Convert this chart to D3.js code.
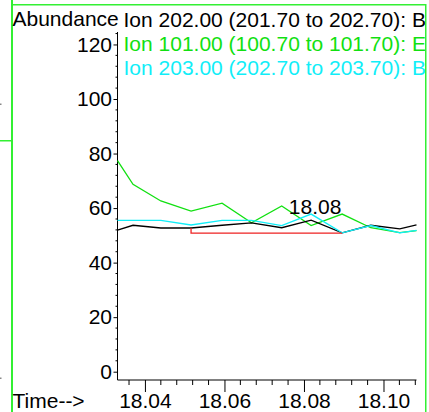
<!DOCTYPE html>
<html>
<head>
<meta charset="utf-8">
<script src="https://cdn.jsdelivr.net/npm/d3@7"></script>
<style>
  html, body { margin: 0; padding: 0; background: #fff; }
  svg { display: block; font-family: "Liberation Sans", Arial, sans-serif; }
</style>
</head>
<body>
<div id="chart"></div>
<script>
// ---- data ----
const times = [18.0331, 18.0370, 18.0440, 18.0516, 18.0594, 18.0668, 18.0744, 18.0818, 18.0896, 18.0968, 18.1041, 18.1083];
const ion202 = [51.9, 53.7, 52.7, 52.7, 53.7, 54.6, 52.8, 55.6, 50.9, 53.7, 52.4, 53.8];
const ion101 = [77.4, 68.7, 62.6, 58.9, 61.8, 54.6, 60.8, 53.6, 57.8, 52.8, 51.0, 51.7];
const ion203 = [55.5, 55.5, 55.5, 53.8, 55.5, 55.5, 53.6, 57.8, 50.9, 53.6, 50.9, 51.8];
const seriesNames = ["Ion 202.00 (201.70 to 202.70): B", "Ion 101.00 (100.70 to 101.70): E", "Ion 203.00 (202.70 to 203.70): B"];
const seriesColors = ["#000000", "#11e011", "#11eef8"];
const yTicks = [0, 20, 40, 60, 80, 100, 120];
const xTicks = [18.04, 18.06, 18.08, 18.10];
const baselineT = [18.0516, 18.0516, 18.0896];
const baselineV = [52.7, 50.8, 50.8];
const peakLabel = { t: 18.0818, v: 57.8, text: "18.08" };

const W = 429, H = 412;
const FS = 21;
const svg = d3.select("#chart").append("svg").attr("width", W).attr("height", H);

// scales
const x = d3.scaleLinear().domain([18.0331, 18.1083]).range([117.5, 416.5]);
const y = d3.scaleLinear().domain([0, 100]).range([371.7, 99]);

const frameColor = "#33f033";

// frame
svg.append("rect").attr("x", 11).attr("y", 0).attr("width", 2).attr("height", H).attr("fill", frameColor);
svg.append("rect").attr("x", 11).attr("y", 4).attr("width", 415).attr("height", 1.5).attr("fill", frameColor);
svg.append("rect").attr("x", 425).attr("y", 4).attr("width", 1.5).attr("height", H).attr("fill", frameColor);
svg.append("rect").attr("x", 0).attr("y", 140).attr("width", 11).attr("height", 1.5).attr("fill", frameColor);
svg.append("rect").attr("x", 0).attr("y", 103.5).attr("width", 1.5).attr("height", 1.5).attr("fill", "#888");
svg.append("rect").attr("x", 0).attr("y", 377.5).attr("width", 1.5).attr("height", 1.5).attr("fill", "#888");

svg.append("defs").append("clipPath").attr("id", "clip")
  .append("rect").attr("x", 13).attr("y", 5).attr("width", 412).attr("height", H);

// y axis line
const yTop = 32, xAxisY = 380;
svg.append("line").attr("x1", 117.5).attr("x2", 117.5).attr("y1", yTop).attr("y2", xAxisY)
  .attr("stroke", "#000").attr("stroke-width", 1);

// y minor ticks
const yMinor = d3.range(0, 125, 4).filter(v => v % 20 !== 0);
const gy = svg.append("g").attr("transform", "translate(117.5,0)");
gy.selectAll("line.minor").data(yMinor).join("line")
  .attr("x1", -2).attr("x2", 0).attr("y1", d => y(d)).attr("y2", d => y(d))
  .attr("stroke", "#000").attr("stroke-width", 1);
const yAxis = d3.axisLeft(y).tickValues(yTicks).tickSize(4).tickPadding(1.5).tickFormat(d3.format("d"));
gy.append("g").call(yAxis).call(g => {
  g.select(".domain").remove();
  g.selectAll("text").attr("font-size", FS).attr("fill", "#000").attr("font-family", "Liberation Sans, Arial, sans-serif");
});

// x axis
const gx = svg.append("g").attr("transform", `translate(0,${xAxisY})`);
gx.append("line").attr("x1", 117.5).attr("x2", 416.5).attr("y1", 0).attr("y2", 0).attr("stroke", "#000");
const xMinor = d3.range(18.036, 18.109, 0.004).filter(v => Math.abs(Math.round(v / 0.02) * 0.02 - v) > 1e-6);
gx.selectAll("line.minor").data(xMinor).join("line")
  .attr("x1", d => x(d)).attr("x2", d => x(d)).attr("y1", 0).attr("y2", 5)
  .attr("stroke", "#000");
const xAxis = d3.axisBottom(x).tickValues(xTicks).tickSize(12).tickPadding(1).tickFormat(d3.format(".2f"));
gx.append("g").call(xAxis).call(g => {
  g.select(".domain").remove();
  g.selectAll("text").attr("font-size", FS).attr("fill", "#000").attr("font-family", "Liberation Sans, Arial, sans-serif");
});

// labels
svg.append("text").attr("x", 12.5).attr("y", 25.5).attr("font-size", FS).text("Abundance");
svg.append("text").attr("x", 12.5).attr("y", 408).attr("font-size", FS).text("Time-->");

// legend
const legend = svg.append("g").attr("clip-path", "url(#clip)");
seriesNames.forEach((n, i) => {
  legend.append("text").attr("x", 123.5).attr("y", 26.7 + i * 24.2)
    .attr("font-size", FS).attr("fill", seriesColors[i])
    .text(n);
});

// lines
const line = d3.line().x(d => x(d[0])).y(d => y(d[1]));
const allSeries = [ion202, ion101, ion203];
const order = [1, 0, 2];
order.forEach(i => {
  svg.append("path").datum(times.map((t, k) => [t, allSeries[i][k]]))
    .attr("d", line).attr("fill", "none").attr("stroke", seriesColors[i]).attr("stroke-width", 1.3);
});

// integration baseline
svg.append("path").datum(baselineT.map((t, k) => [t, baselineV[k]]))
  .attr("d", line).attr("fill", "none").attr("stroke", "#ee2222").attr("stroke-width", 1.3);

// peak label
svg.append("text").attr("x", x(peakLabel.t) + 4).attr("y", 214)
  .attr("text-anchor", "middle").attr("font-size", FS).text(peakLabel.text);
</script>
</body>
</html>
